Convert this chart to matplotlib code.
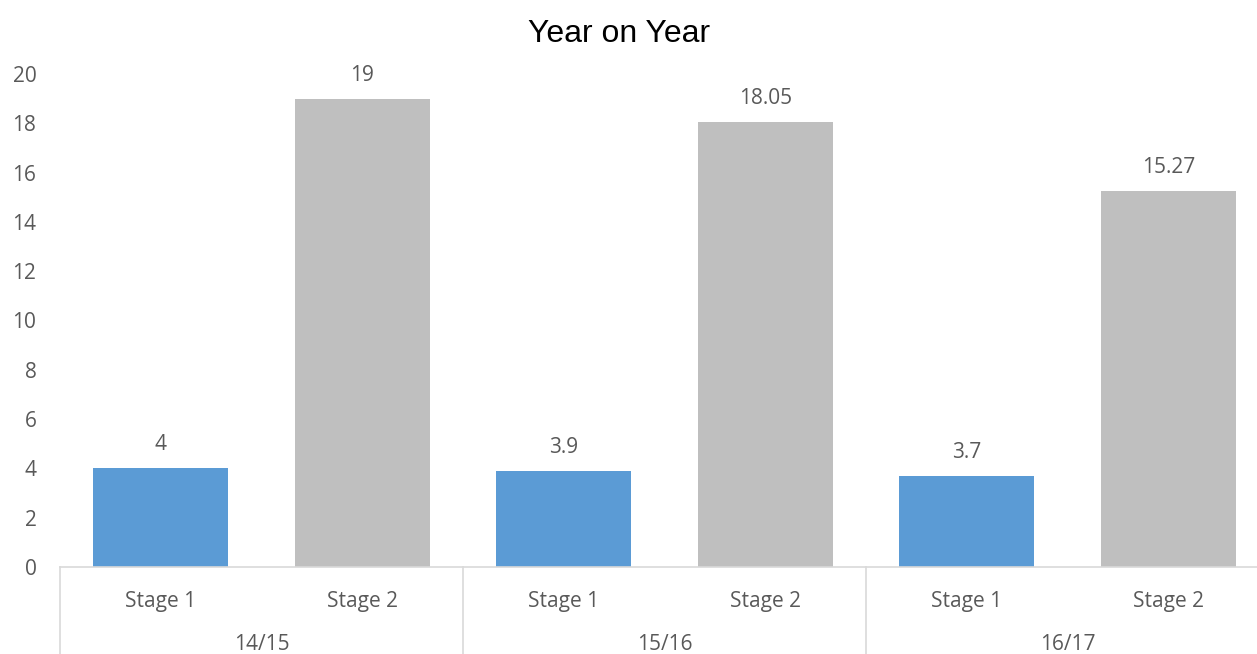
import matplotlib
matplotlib.use("Agg")
import matplotlib.pyplot as plt
import numpy as np

# values per year, two stages each
years = ["14/15", "15/16", "16/17"]
stages = ["Stage 1", "Stage 2"]
stage1 = [4, 3.9, 3.7]
stage2 = [19, 18.05, 15.27]
labels = ["4", "3.9", "3.7", "19", "18.05", "15.27"]

BLUE = "#5B9BD5"
GREY = "#BFBFBF"
TEXT = "#595959"
LINE = "#D9D9D9"

plt.rcParams["font.family"] = ["Open Sans", "DejaVu Sans"]

W, H = 1257, 654
fig = plt.figure(figsize=(W / 100, H / 100), dpi=100)

# plot area: left edge at x=60px, slots 201.5px wide, runs off the right edge
left, bottom_px, top_px = 60, 567, 74
slot = 201.5
ax = fig.add_axes([left / W, (H - bottom_px) / H, 6 * slot / W, (bottom_px - top_px) / H])
ax_h = bottom_px - top_px

n = len(years)
x1 = np.arange(n) * 2
x2 = x1 + 1
bw = 0.67
ax.bar(x1, stage1, width=bw, color=BLUE, zorder=2)
ax.bar(x2, stage2, width=bw, color=GREY, zorder=2)

for xs, vals, texts in [(x1, stage1, labels[:3]), (x2, stage2, labels[3:])]:
    for x, v, t in zip(xs, vals, texts):
        ax.annotate(t, (x, v), xytext=(0, 13), textcoords="offset points",
                    ha="center", va="baseline", fontsize=15, color=TEXT)

ax.set_xlim(-0.5, 2 * n - 0.5)
ax.set_ylim(0, 20)
ax.set_yticks(range(0, 21, 2))
ax.tick_params(axis="y", length=0, pad=17, labelsize=15, labelcolor=TEXT)
ax.set_xticks([])

for s in ["left", "right", "top"]:
    ax.spines[s].set_visible(False)
ax.spines["bottom"].set_color(LINE)
ax.spines["bottom"].set_linewidth(1.2)

# two-level category axis
tr = ax.get_xaxis_transform()
for i, yr in enumerate(years):
    for j, st in enumerate(stages):
        ax.text(2 * i + j, -34 / ax_h, st, transform=tr, ha="center", va="center",
                fontsize=15, color=TEXT)
    ax.text(2 * i + 0.5, -78 / ax_h, yr, transform=tr, ha="center", va="center",
            fontsize=15, color=TEXT)
for xs in np.arange(n + 1) * 2 - 0.5:
    ax.plot([xs, xs], [0, -0.2], transform=tr, color=LINE, lw=1.2, clip_on=False)

fig.text(619 / W, (H - 42) / H, "Year on Year", ha="center", va="baseline",
         fontsize=23, family="Liberation Sans", color="black")

fig.savefig("out.png", dpi=100)
